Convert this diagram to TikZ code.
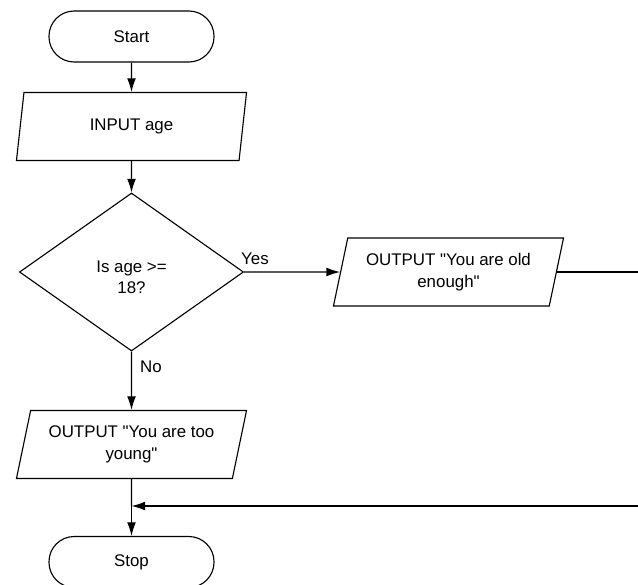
\documentclass[tikz,border=0pt]{standalone}
\usepackage{fontspec}
\setmainfont{Liberation Sans}[Ligatures=TeXOff]
\usetikzlibrary{arrows.meta,shapes.geometric}

\begin{document}
\begin{tikzpicture}[x=0.025cm, y=-0.025cm, line width=0.8pt,
  font=\fontsize{12}{15.4}\selectfont,
  term/.style={draw, rounded corners=0.63cm, minimum width=4.125cm, minimum height=1.275cm},
  io/.style={draw, trapezium, trapezium left angle=73, trapezium right angle=107,
    trapezium stretches body, minimum width=5.75cm, minimum height=1.7cm, align=center},
  decide/.style={draw, diamond, aspect=1.4, inner sep=0pt, minimum width=5.6cm,
    minimum height=3.95cm, align=center},
  flow/.style={-{Latex[length=3.4mm,width=2.2mm]}}]
\useasboundingbox (0,0) rectangle (638,585);
\clip (0,0) rectangle (638,585);
% column of the chart
\node[term] (start) at (131.5,36.5) {Start};
\node[io] (input) at (131.5,126.5) {INPUT age};
\node[decide] (check) at (131.5,272) {\rule{0pt}{16pt}Is age >=\\18?};
\node[io] (outyoung) at (131.5,444.5) {OUTPUT "You are too\\young"};
\node[term] (stop) at (131.5,562) {Stop};
\coordinate (join) at (131.5,506);
% yes branch
\node[io] (outold) at (448.5,272) {OUTPUT "You are old\\enough"};
\node (yeslbl) at (255,259) {Yes};
\node (nolbl) at (151,367) {No};
% connectors
\draw[flow] (start) -- (input);
\draw[flow] (input) -- (check);
\draw[flow] (check.east) -- (outold);
\draw[flow] (check.south) -- (outyoung);
\draw (outyoung.south) -- (join);
\draw[flow] (join) -- (stop);
\draw[flow] (outold.east) -- ++(105,0) |- (join);
\end{tikzpicture}
\end{document}
